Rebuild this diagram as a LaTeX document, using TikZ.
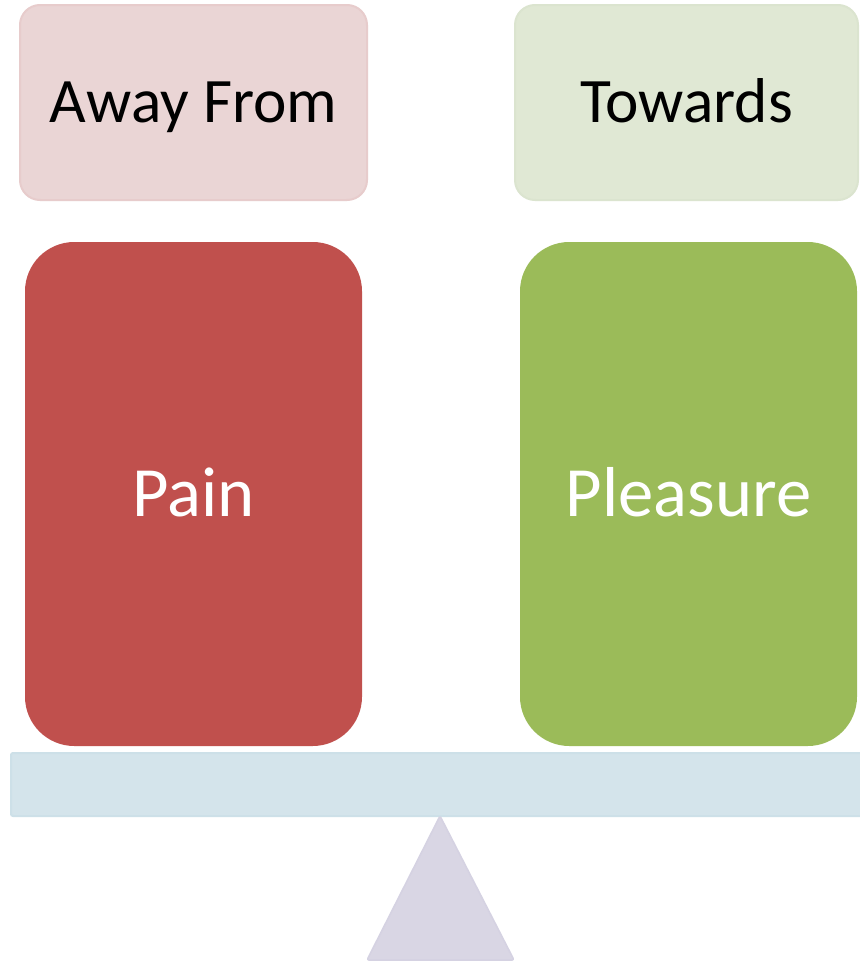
\documentclass[tikz,border=0pt]{standalone}
\usepackage{fontspec}
\setmainfont{Carlito}
\definecolor{awayfill}{RGB}{234,213,213}
\definecolor{awayline}{RGB}{231,204,204}
\definecolor{towfill}{RGB}{224,232,212}
\definecolor{towline}{RGB}{219,228,207}
\definecolor{painfill}{RGB}{192,80,77}
\definecolor{plfill}{RGB}{155,187,89}
\definecolor{beamfill}{RGB}{212,228,235}
\definecolor{beamline}{RGB}{205,224,232}
\definecolor{trifill}{RGB}{217,214,228}
\definecolor{triline}{RGB}{213,210,226}
\begin{document}
\begin{tikzpicture}[x=0.75pt,y=-0.75pt,
  labelbox/.style={rounded corners=15pt, line width=1.5pt, inner sep=0pt,
    minimum height=146.25pt, font=\fontsize{47.5}{57}\selectfont,
    text height=30pt, text depth=0pt},
  bigbox/.style={rounded corners=37pt, inner sep=0pt, text=white,
    minimum width=252.75pt, minimum height=378pt,
    font=\fontsize{53}{63}\selectfont, text height=33.5pt, text depth=0pt},
]
\clip (0,0) rectangle (860,964);
\fill[white] (0,0) rectangle (860,964);
\node[labelbox, fill=awayfill, draw=awayline, minimum width=260.25pt] (away) at (193.5,102.5) {Away From};
\node[labelbox, fill=towfill, draw=towline, minimum width=257.25pt] (towards) at (686.5,102.5) {Towards};
\node[bigbox, fill=painfill] (pain) at (193.5,494) {Pain};
\node[bigbox, fill=plfill] (pleasure) at (688.5,494) {Pleasure};
\node[draw=beamline, fill=beamfill, line width=1.5pt, rounded corners=1.5pt,
  minimum width=666.75pt, minimum height=47.25pt, inner sep=0pt] (beam) at (455.5,784.5) {};
\coordinate (apex) at (440,816);
\coordinate (bl) at (367,960);
\coordinate (br) at (514,960);
\draw[fill=trifill, draw=triline, line width=1.2pt, rounded corners=1.5pt, line join=round]
  (apex) -- (br) -- (bl) -- cycle;
\end{tikzpicture}
\end{document}
